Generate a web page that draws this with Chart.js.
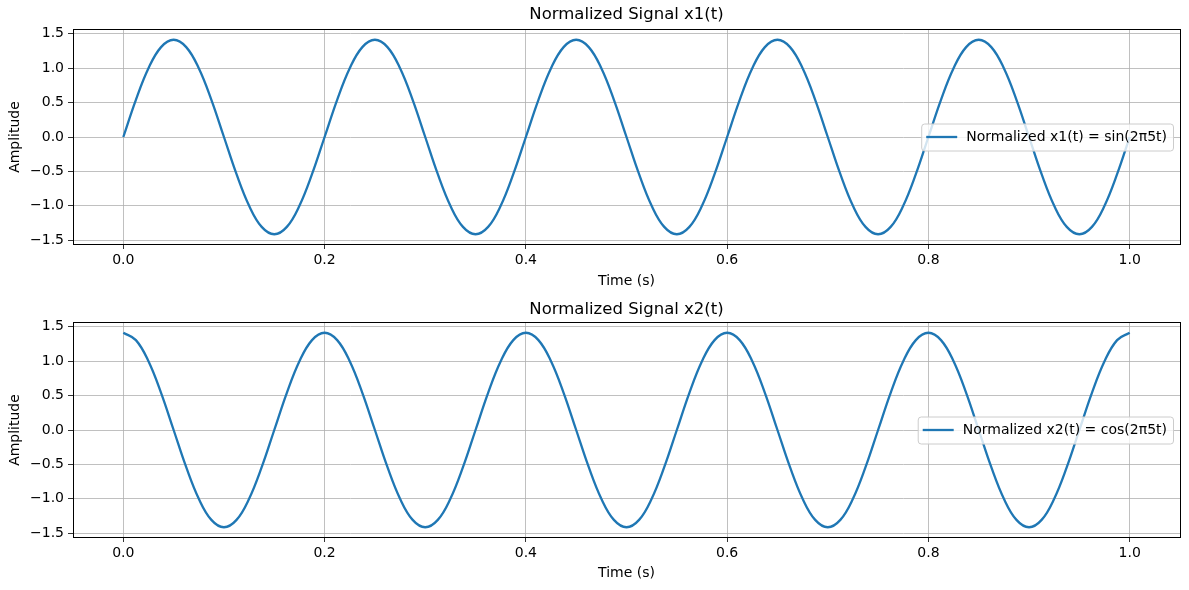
<!DOCTYPE html>
<html>
<head>
<meta charset="utf-8">
<script src="https://cdn.jsdelivr.net/npm/chart.js@4.4.0/dist/chart.umd.min.js"></script>
<style>
    body { margin: 0; background: #fff; }
    .plot { position: absolute; left: 0; width: 1189px; height: 295px; }
</style>
</head>
<body>
<div class="plot" style="top:0"><canvas id="plotX1" width="1189" height="295"></canvas></div>
<div class="plot" style="top:295px"><canvas id="plotX2" width="1189" height="295"></canvas></div>
<script>
// time axis (s), sampled every 12.5 ms
const tValues = [
    0, 0.0125, 0.025, 0.0375, 0.05, 0.0625, 0.075, 0.0875,
    0.1, 0.1125, 0.125, 0.1375, 0.15, 0.1625, 0.175, 0.1875,
    0.2, 0.2125, 0.225, 0.2375, 0.25, 0.2625, 0.275, 0.2875,
    0.3, 0.3125, 0.325, 0.3375, 0.35, 0.3625, 0.375, 0.3875,
    0.4, 0.4125, 0.425, 0.4375, 0.45, 0.4625, 0.475, 0.4875,
    0.5, 0.5125, 0.525, 0.5375, 0.55, 0.5625, 0.575, 0.5875,
    0.6, 0.6125, 0.625, 0.6375, 0.65, 0.6625, 0.675, 0.6875,
    0.7, 0.7125, 0.725, 0.7375, 0.75, 0.7625, 0.775, 0.7875,
    0.8, 0.8125, 0.825, 0.8375, 0.85, 0.8625, 0.875, 0.8875,
    0.9, 0.9125, 0.925, 0.9375, 0.95, 0.9625, 0.975, 0.9875,
    1.0
];

const x1Values = [
    0, 0.541, 1.0, 1.307, 1.414, 1.307, 1.0, 0.541,
    0, -0.541, -1.0, -1.307, -1.414, -1.307, -1.0, -0.541,
    0, 0.541, 1.0, 1.307, 1.414, 1.307, 1.0, 0.541,
    0, -0.541, -1.0, -1.307, -1.414, -1.307, -1.0, -0.541,
    0, 0.541, 1.0, 1.307, 1.414, 1.307, 1.0, 0.541,
    0, -0.541, -1.0, -1.307, -1.414, -1.307, -1.0, -0.541,
    0, 0.541, 1.0, 1.307, 1.414, 1.307, 1.0, 0.541,
    0, -0.541, -1.0, -1.307, -1.414, -1.307, -1.0, -0.541,
    0, 0.541, 1.0, 1.307, 1.414, 1.307, 1.0, 0.541,
    0, -0.541, -1.0, -1.307, -1.414, -1.307, -1.0, -0.541,
    0
];

const x2Values = [
    1.414, 1.307, 1.0, 0.541, 0, -0.541, -1.0, -1.307,
    -1.414, -1.307, -1.0, -0.541, 0, 0.541, 1.0, 1.307,
    1.414, 1.307, 1.0, 0.541, 0, -0.541, -1.0, -1.307,
    -1.414, -1.307, -1.0, -0.541, 0, 0.541, 1.0, 1.307,
    1.414, 1.307, 1.0, 0.541, 0, -0.541, -1.0, -1.307,
    -1.414, -1.307, -1.0, -0.541, 0, 0.541, 1.0, 1.307,
    1.414, 1.307, 1.0, 0.541, 0, -0.541, -1.0, -1.307,
    -1.414, -1.307, -1.0, -0.541, 0, 0.541, 1.0, 1.307,
    1.414, 1.307, 1.0, 0.541, 0, -0.541, -1.0, -1.307,
    -1.414, -1.307, -1.0, -0.541, 0, 0.541, 1.0, 1.307,
    1.414
];

const xTicks = [0, 0.2, 0.4, 0.6, 0.8, 1.0];
const yTicks = [-1.5, -1.0, -0.5, 0, 0.5, 1.0, 1.5];

const FONT = "'DejaVu Sans', sans-serif";
const LINE_COLOR = '#1f77b4';

// axes frame + title + matplotlib-like legend box
const axesDecor = {
    id: 'axesDecor',
    afterDatasetsDraw(chart, args, opts) {
        const ctx = chart.ctx;
        const a = chart.chartArea;
        ctx.save();
        // frame (all 4 spines)
        ctx.strokeStyle = '#000';
        ctx.lineWidth = 1;
        ctx.strokeRect(Math.round(a.left) + 0.5, Math.round(a.top) - 0.5,
            Math.round(a.right - a.left), Math.round(a.bottom - a.top) + 1);

        // title centred on the axes
        ctx.fillStyle = '#000';
        ctx.font = '16.5px ' + FONT;
        ctx.textAlign = 'center';
        ctx.textBaseline = 'middle';
        ctx.fillText(opts.title, (a.left + a.right) / 2, opts.titleY);

        // legend, center right
        ctx.font = '14px ' + FONT;
        const label = chart.data.datasets[0].label;
        const tw = ctx.measureText(label).width;
        const w = tw + 51;
        const h = 27;
        const x0 = a.right - 7 - w;
        const y0 = (a.top + a.bottom) / 2 - h / 2;
        ctx.beginPath();
        ctx.roundRect(x0 + 0.5, y0 + 0.5, w, h, 3);
        ctx.fillStyle = 'rgba(255,255,255,0.8)';
        ctx.fill();
        ctx.strokeStyle = '#cccccc';
        ctx.lineWidth = 1;
        ctx.stroke();
        ctx.beginPath();
        ctx.moveTo(x0 + 5, y0 + h / 2);
        ctx.lineTo(x0 + 36, y0 + h / 2);
        ctx.strokeStyle = LINE_COLOR;
        ctx.lineWidth = 2.3;
        ctx.stroke();
        ctx.fillStyle = '#000';
        ctx.textAlign = 'left';
        ctx.fillText(label, x0 + 45, y0 + h / 2 + 0.5);
        ctx.restore();
    }
};

function fmt(v) {
    return v.toFixed(1).replace('-', '\u2212');
}

function makeChart(canvasId, title, label, values, titleY, topPad, xAxisHeight, xTitlePad) {
    const points = tValues.map((t, i) => ({x: t, y: values[i]}));
    return new Chart(canvasId, {
        type: 'line',
        data: {
            datasets: [{
                label: label,
                data: points,
                borderColor: LINE_COLOR,
                borderWidth: 2.3,
                pointRadius: 0,
                fill: false,
                tension: 0.4
            }]
        },
        plugins: [axesDecor],
        options: {
            responsive: false,
            animation: false,
            events: [],
            layout: {padding: {top: topPad, left: 0, right: 9, bottom: 0}},
            plugins: {
                legend: {display: false},
                tooltip: {enabled: false},
                axesDecor: {title: title, titleY: titleY}
            },
            scales: {
                x: {
                    type: 'linear',
                    min: -0.05,
                    max: 1.05,
                    afterBuildTicks: scale => { scale.ticks = xTicks.map(v => ({value: v})); },
                    afterFit: scale => { scale.height = xAxisHeight; },
                    ticks: {
                        color: '#000',
                        font: {family: FONT, size: 14},
                        padding: 3,
                        maxRotation: 0,
                        callback: v => fmt(v)
                    },
                    grid: {color: '#b0b0b0', lineWidth: 0.8, tickColor: '#000', tickLength: 5},
                    border: {color: '#000', width: 1},
                    title: {
                        display: true,
                        text: 'Time (s)',
                        color: '#000',
                        font: {family: FONT, size: 14},
                        padding: {top: 0, bottom: xTitlePad}
                    }
                },
                y: {
                    min: -1.556,
                    max: 1.556,
                    afterBuildTicks: scale => { scale.ticks = yTicks.map(v => ({value: v})); },
                    afterFit: scale => { scale.width = 73; },
                    ticks: {
                        color: '#000',
                        font: {family: FONT, size: 14},
                        padding: 4,
                        callback: v => fmt(v)
                    },
                    grid: {color: '#b0b0b0', lineWidth: 0.8, tickColor: '#000', tickLength: 5},
                    border: {color: '#000', width: 1},
                    title: {
                        display: true,
                        text: 'Amplitude',
                        color: '#000',
                        font: {family: FONT, size: 14},
                        padding: {top: 7, bottom: 0}
                    }
                }
            }
        }
    });
}

makeChart('plotX1', 'Normalized Signal x1(t)', 'Normalized x1(t) = sin(2\u03c05t)', x1Values, 15, 30, 51, 5);
makeChart('plotX2', 'Normalized Signal x2(t)', 'Normalized x2(t) = cos(2\u03c05t)', x2Values, 15, 28, 53, 8);
</script>
</body>
</html>
